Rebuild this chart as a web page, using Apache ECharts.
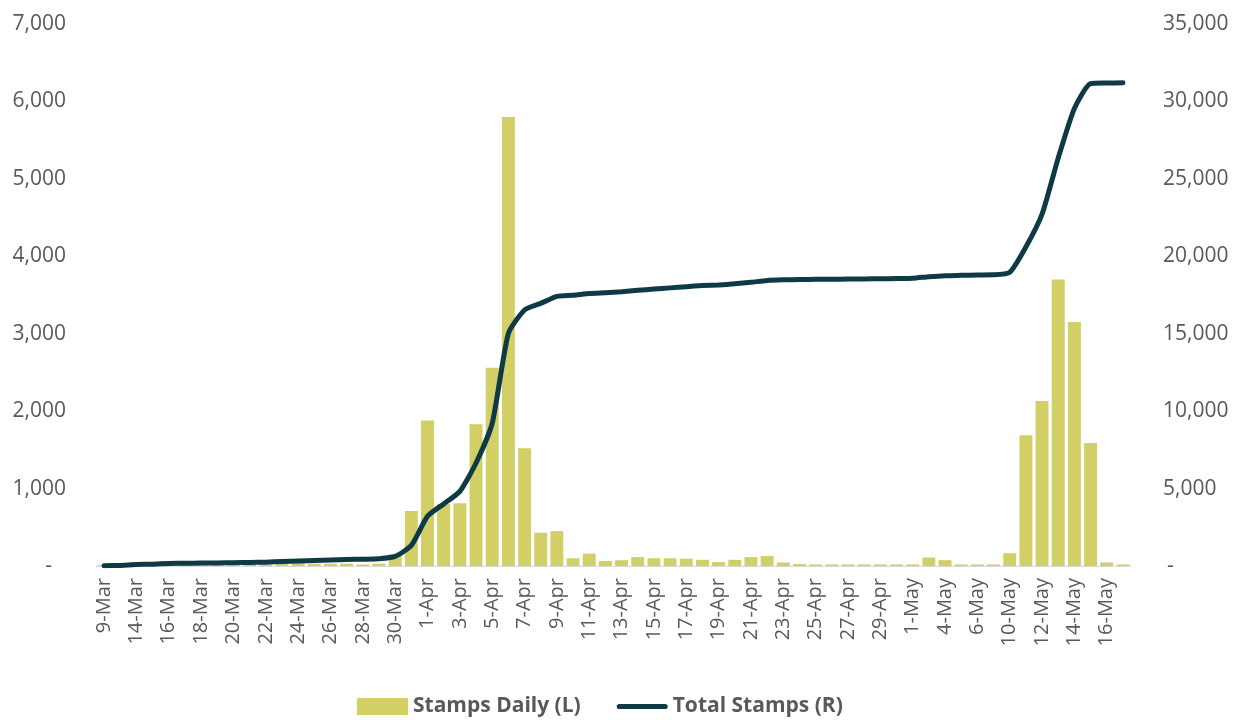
<!DOCTYPE html>
<html>
<head>
<meta charset="utf-8">
<style>
  html, body { margin: 0; padding: 0; background: #ffffff; }
  #chart { width: 1245px; height: 720px; }
</style>
<script src="https://cdn.jsdelivr.net/npm/echarts@6/dist/echarts.min.js"></script>
</head>
<body>
<div id="chart"></div>
<script>
// Dates with stamp activity
const dates = [
  '9-Mar', '13-Mar', '14-Mar', '15-Mar', '16-Mar', '17-Mar', '18-Mar', '19-Mar', '20-Mar', '21-Mar',
  '22-Mar', '23-Mar', '24-Mar', '25-Mar', '26-Mar', '27-Mar', '28-Mar', '29-Mar', '30-Mar', '31-Mar',
  '1-Apr', '2-Apr', '3-Apr', '4-Apr', '5-Apr', '6-Apr', '7-Apr', '8-Apr', '9-Apr', '10-Apr',
  '11-Apr', '12-Apr', '13-Apr', '14-Apr', '15-Apr', '16-Apr', '17-Apr', '18-Apr', '19-Apr', '20-Apr',
  '21-Apr', '22-Apr', '23-Apr', '24-Apr', '25-Apr', '26-Apr', '27-Apr', '28-Apr', '29-Apr', '30-Apr',
  '1-May', '2-May', '4-May', '5-May', '6-May', '7-May', '10-May', '11-May', '12-May', '13-May',
  '14-May', '15-May', '16-May', '17-May'
];

// Stamps issued each day (left axis)
const stampsDaily = [
  10, 30, 50, 30, 40, 20, 10, 10, 10, 20,
  20, 40, 40, 30, 30, 30, 20, 30, 150, 710,
  1880, 800, 810, 1830, 2560, 5800, 1520, 430, 450, 100,
  160, 65, 75, 115, 100, 100, 95, 80, 50, 80,
  115, 130, 45, 25, 20, 20, 20, 20, 20, 20,
  20, 110, 75, 20, 20, 20, 165, 1690, 2130, 3700,
  3150, 1590, 45, 20
];

// Running total of stamps (right axis)
const totalStamps = [
  10, 40, 90, 120, 160, 180, 190, 200, 210, 230,
  250, 290, 330, 360, 390, 420, 440, 470, 620, 1330,
  3210, 4010, 4820, 6650, 9210, 15010, 16530, 16960, 17410, 17480,
  17600, 17650, 17710, 17800, 17880, 17960, 18040, 18110, 18150, 18220,
  18320, 18440, 18480, 18500, 18510, 18520, 18530, 18540, 18550, 18560,
  18580, 18680, 18750, 18770, 18790, 18800, 18960, 20600, 22720, 26350,
  29550, 31150, 31190, 31200
];

const leftTicks = { min: 0, max: 7000, step: 1000 };
const rightTicks = { min: 0, max: 35000, step: 5000 };

const BAR_COLOR = '#d1cf65';
const LINE_COLOR = '#0e3a46';
const TEXT_COLOR = '#595959';
const FONT = '"Open Sans", "Noto Sans", sans-serif';

// Thick rounded stroke used as the line series' legend key
const LINE_KEY = 'path://M2.5,0H47.5A2.5,2.5 0 0 1 47.5,5H2.5A2.5,2.5 0 0 1 2.5,0Z';

function fmtThousands(v) {
  if (v === 0) return '{dash|-}';
  return v.toLocaleString('en-US');
}

const chart = echarts.init(document.getElementById('chart'), null, { renderer: 'canvas' });

chart.setOption({
  animation: false,
  backgroundColor: '#ffffff',
  textStyle: { fontFamily: FONT },
  grid: { left: 96, right: 114, top: 24, bottom: 154, containLabel: false },
  legend: {
    left: 352,
    top: 691,
    itemWidth: 51,
    itemHeight: 17,
    itemGap: 36,
    textStyle: { color: TEXT_COLOR, fontFamily: FONT, fontWeight: 'bold', fontSize: 21 },
    data: [
      { name: 'Stamps Daily (L)', icon: 'rect' },
      { name: 'Total Stamps (R)', icon: LINE_KEY }
    ]
  },
  xAxis: {
    type: 'category',
    data: dates,
    boundaryGap: true,
    axisLine: { show: true, lineStyle: { color: '#d9d9d9', width: 1 } },
    axisTick: { show: false },
    axisLabel: {
      interval: 1,
      rotate: 90,
      margin: 12,
      color: TEXT_COLOR,
      fontFamily: FONT,
      fontSize: 20
    },
    splitLine: { show: false }
  },
  yAxis: [
    {
      type: 'value',
      min: leftTicks.min,
      max: leftTicks.max,
      interval: leftTicks.step,
      axisLine: { show: false },
      axisTick: { show: false },
      splitLine: { show: false },
      axisLabel: {
        margin: 30,
        color: TEXT_COLOR,
        fontFamily: FONT,
        fontSize: 21,
        formatter: fmtThousands,
        rich: { dash: { color: TEXT_COLOR, fontSize: 21, fontFamily: FONT, padding: [0, 14, 0, 0] } }
      }
    },
    {
      type: 'value',
      min: rightTicks.min,
      max: rightTicks.max,
      interval: rightTicks.step,
      position: 'right',
      axisLine: { show: false },
      axisTick: { show: false },
      splitLine: { show: false },
      axisLabel: {
        margin: 32,
        color: TEXT_COLOR,
        fontFamily: FONT,
        fontSize: 21,
        formatter: fmtThousands,
        rich: { dash: { color: TEXT_COLOR, fontSize: 21, fontFamily: FONT, padding: [0, 0, 0, 4] } }
      }
    }
  ],
  series: [
    {
      name: 'Stamps Daily (L)',
      type: 'bar',
      yAxisIndex: 0,
      data: stampsDaily,
      barCategoryGap: '20%',
      itemStyle: { color: BAR_COLOR },
      z: 2
    },
    {
      name: 'Total Stamps (R)',
      type: 'line',
      yAxisIndex: 1,
      data: totalStamps,
      symbol: 'none',
      smooth: 0.2,
      lineStyle: { color: LINE_COLOR, width: 5, cap: 'round', join: 'round' },
      itemStyle: { color: LINE_COLOR },
      z: 3
    }
  ]
});
</script>
</body>
</html>
